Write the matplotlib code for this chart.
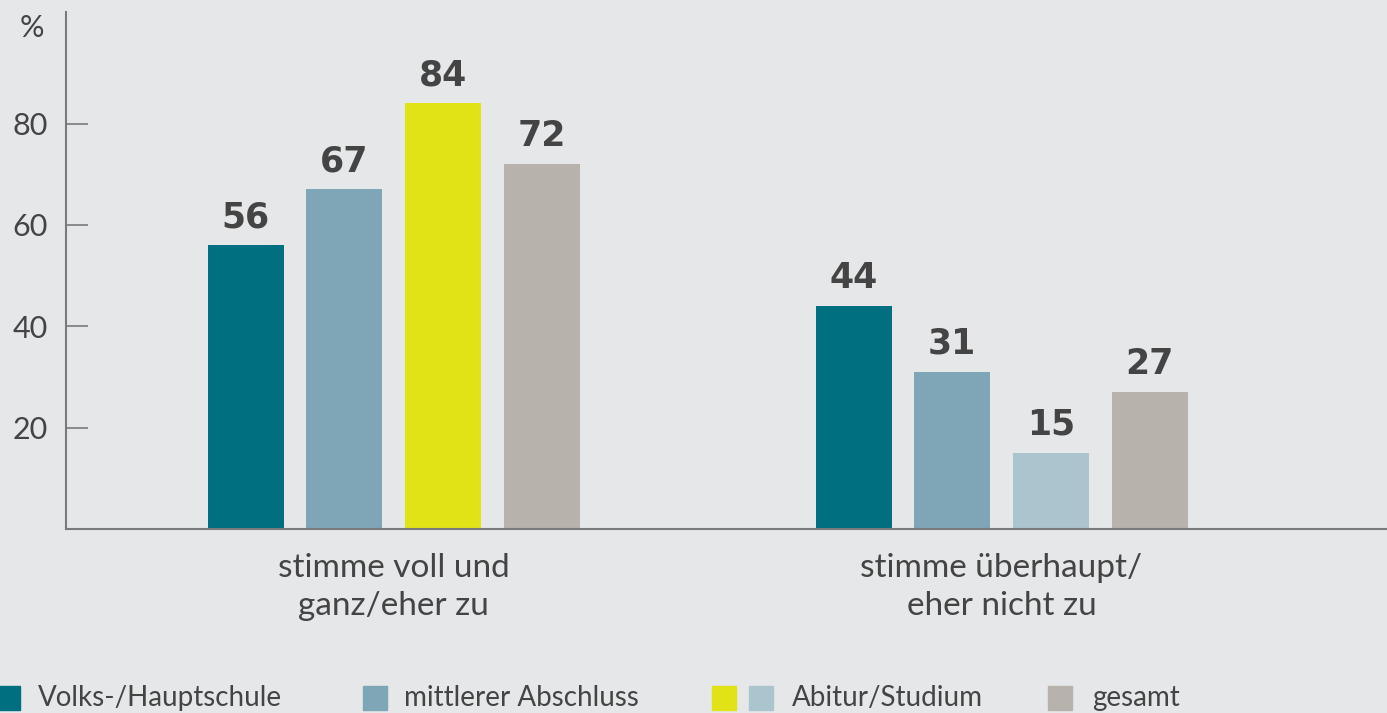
import matplotlib.pyplot as plt
from matplotlib.patches import Rectangle
import numpy as np

plt.rcParams['font.family'] = ['Lato', 'DejaVu Sans']

categories = ["stimme voll und\nganz/eher zu", "stimme überhaupt/\neher nicht zu"]
series = ["Volks-/Hauptschule", "mittlerer Abschluss", "Abitur/Studium", "gesamt"]
volks = [56, 44]
mittlerer = [67, 31]
abitur = [84, 15]
gesamt = [72, 27]
yticks = [20, 40, 60, 80]

values = [volks, mittlerer, abitur, gesamt]
colors = [["#006f80", "#006f80"],
          ["#7ea6b7", "#7ea6b7"],
          ["#e1e317", "#abc5cf"],
          ["#b7b2ab", "#b7b2ab"]]

bg = "#e6e7e9"
txt = "#444444"
axc = "#7a7a7a"

fig = plt.figure(figsize=(13.87, 7.13), dpi=100, facecolor=bg)
ax = fig.add_axes([66 / 1387, 184 / 713, 1 - 66 / 1387, 517 / 713])
ax.set_facecolor(bg)

step = 0.1623
width = 0.125
x = np.arange(len(categories))
for j, vals in enumerate(values):
    pos = x + (j - 1.5) * step
    ax.bar(pos, vals, width=width, color=colors[j], zorder=2)
    for p, v in zip(pos, vals):
        ax.text(p, v + 2.2, str(v), ha='center', va='bottom', fontsize=25,
                fontweight='bold', color=txt, family='DejaVu Sans')

ax.set_xlim(-0.5387, 1.634)
ax.set_ylim(0, 102)
ax.set_yticks(yticks)
ax.set_yticklabels([str(t) for t in yticks])
ax.tick_params(axis='y', direction='in', length=16, width=1.2, color=axc,
               labelsize=22, labelcolor=txt, pad=13)
ax.set_xticks(x)
ax.set_xticklabels(categories, fontsize=24, color=txt, linespacing=1.35)
ax.tick_params(axis='x', length=0, pad=17)

for s in ['top', 'right']:
    ax.spines[s].set_visible(False)
for s in ['left', 'bottom']:
    ax.spines[s].set_color(axc)
    ax.spines[s].set_linewidth(1.5)

fig.text(32 / 1387, 1 - 28 / 713, "%", ha='center', va='center',
         fontsize=22, color=txt)

# legend, drawn by hand along the bottom edge
leg_boxes = [[(-4, colors[0][0])],
             [(363, colors[1][0])],
             [(712, colors[2][0]), (749, colors[2][1])],
             [(1048, colors[3][0])]]
leg_text_x = [38, 404, 792, 1092]
W, H = 1387, 713
for boxes, tx, label in zip(leg_boxes, leg_text_x, series):
    for bx, c in boxes:
        fig.patches.append(Rectangle((bx / W, 1 - 710 / H), 24 / W, 24 / H,
                                     transform=fig.transFigure, color=c))
    fig.text(tx / W, 1 - 698 / H, label, ha='left', va='center',
             fontsize=20, color=txt)

fig.savefig("out.png", dpi=100, facecolor=bg)
